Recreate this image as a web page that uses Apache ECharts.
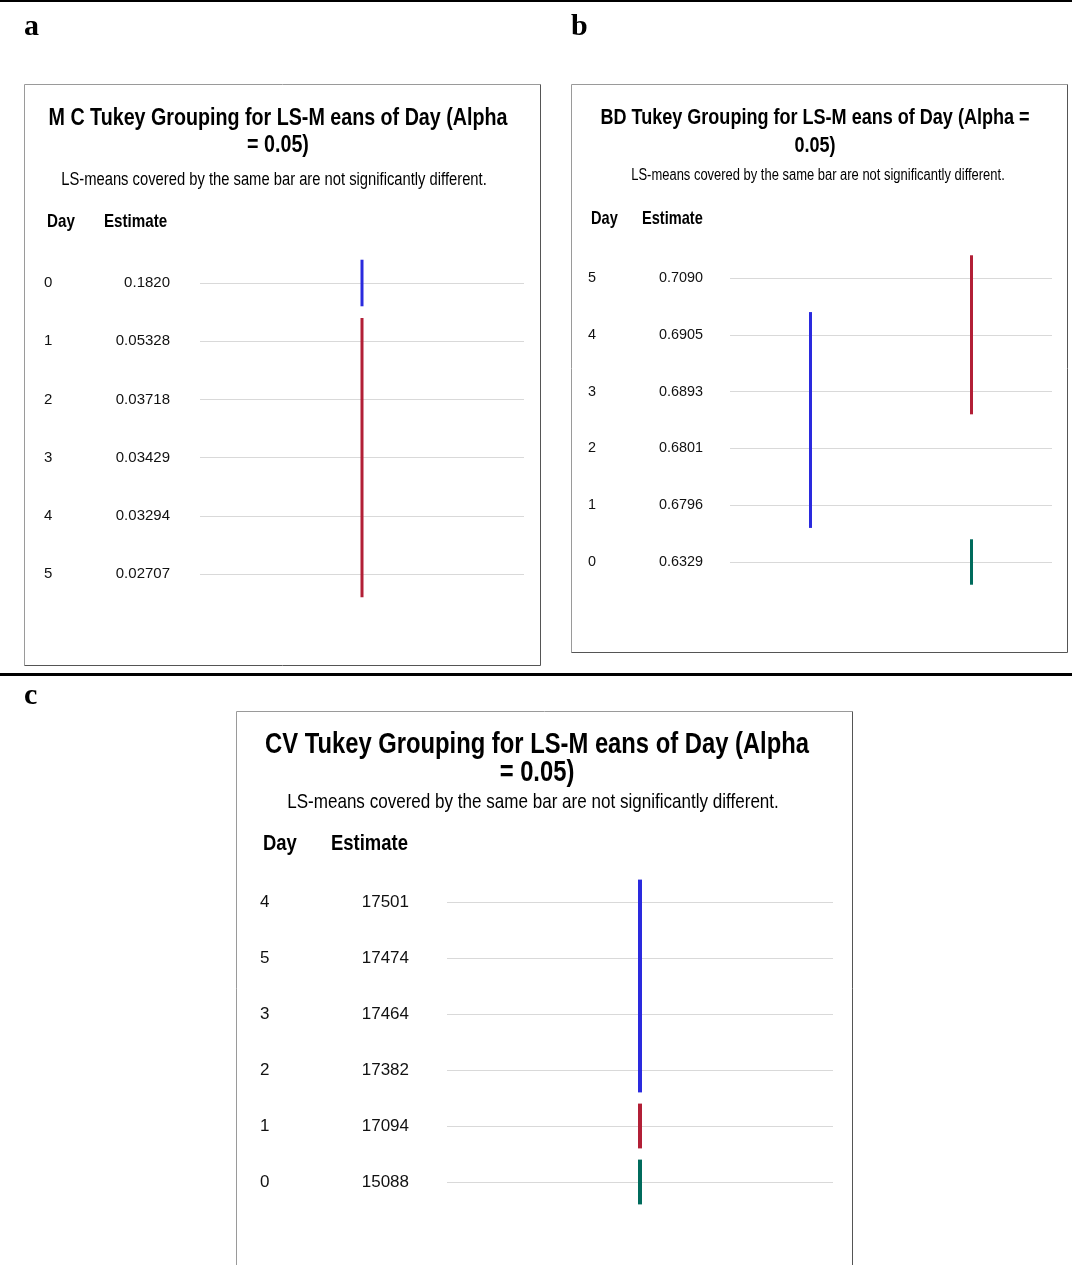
<!DOCTYPE html>
<html>
<head>
<meta charset="utf-8">
<script src="https://cdn.jsdelivr.net/npm/echarts@6/dist/echarts.min.js"></script>
<style>
  html, body { margin: 0; padding: 0; background: #fff; }
  #chart { width: 1072px; height: 1265px; }
</style>
</head>
<body>
<div id="chart"></div>
<script>
// Panel a: MC
const mcDays = ['0', '1', '2', '3', '4', '5'];
const mcEstimates = ['0.1820', '0.05328', '0.03718', '0.03429', '0.03294', '0.02707'];
// Tukey groups: [column, first row, last row]
const mcGroups = [[0, 0, 0], [0, 1, 5]];

// Panel b: BD
const bdDays = ['5', '4', '3', '2', '1', '0'];
const bdEstimates = ['0.7090', '0.6905', '0.6893', '0.6801', '0.6796', '0.6329'];
const bdGroups = [[1, 0, 2], [0, 1, 4], [1, 5, 5]];

// Panel c: CV
const cvDays = ['4', '5', '3', '2', '1', '0'];
const cvEstimates = ['17501', '17474', '17464', '17382', '17094', '15088'];
const cvGroups = [[0, 0, 3], [0, 4, 4], [0, 5, 5]];

const BLUE = '#2a2ade', RED = '#b21f36', GREEN = '#006b5c';
const mcColors = [BLUE, RED];
const bdColors = [RED, BLUE, GREEN];
const cvColors = [BLUE, RED, GREEN];

const SANS = "'Liberation Sans',Arial,sans-serif";
const NARROW_X = 0.82; // horizontal squeeze for the narrow heading face

const panels = [
  { key: 'MC', days: mcDays, est: mcEstimates, groups: mcGroups, colors: mcColors, cols: 1,
    box: [24, 84, 540, 665], grid: { left: 200, top: 283, width: 324, height: 291 },
    dayX: 44, estX: 170, titleX: 278, titleY: [118, 145], subX: 274, subY: 180, headY: 222, dayHeadX: 47, estHeadX: 104,
    fs: 15, titleFs: 24, subFs: 18, headFs: 18.5, bw: 3,
    title: ['M C Tukey Grouping for LS-M eans of Day (Alpha', '= 0.05)'] },
  { key: 'BD', days: bdDays, est: bdEstimates, groups: bdGroups, colors: bdColors, cols: 2,
    box: [571, 84, 1067, 652], grid: { left: 730, top: 278, width: 322, height: 284 },
    dayX: 588, estX: 703, titleX: 815, titleY: [118, 146], subX: 818, subY: 176, headY: 219, dayHeadX: 591, estHeadX: 642,
    fs: 14.4, titleFs: 22, subFs: 15.8, headFs: 17.8, bw: 3,
    title: ['BD Tukey Grouping for LS-M eans of Day (Alpha =', '0.05)'] },
  { key: 'CV', days: cvDays, est: cvEstimates, groups: cvGroups, colors: cvColors, cols: 1,
    box: [236, 711, 852, 1300], grid: { left: 447, top: 902, width: 386, height: 280 },
    dayX: 260, estX: 409, titleX: 537, titleY: [745, 773], subX: 533, subY: 802, headY: 844, dayHeadX: 263, estHeadX: 331,
    fs: 17, titleFs: 29, subFs: 20.8, headFs: 22.5, bw: 4,
    title: ['CV Tukey Grouping for LS-M eans of Day (Alpha', '= 0.05)'] }
];

const grids = [], xAxes = [], yAxes = [], series = [], graphics = [];

function narrowText(text, x, y, size, bold, align) {
  return {
    type: 'text', x, y, scaleX: NARROW_X, scaleY: 1,
    style: { text, align, verticalAlign: 'middle', fill: '#000',
      font: `${bold ? 'bold ' : ''}${size}px ${SANS}` }
  };
}

panels.forEach((p, i) => {
  grids.push({ left: p.grid.left, top: p.grid.top, width: p.grid.width, height: p.grid.height });
  xAxes.push({ gridIndex: i, type: 'value', min: 0, max: p.cols, show: false });
  // Day column, with the horizontal rules
  yAxes.push({
    gridIndex: i, type: 'value', inverse: true, min: 0, max: 5, interval: 1,
    axisLine: { show: false }, axisTick: { show: false },
    splitLine: { show: true, lineStyle: { color: '#d9d9d9', width: 1 } },
    axisLabel: { formatter: v => p.days[v], align: 'left', margin: p.grid.left - p.dayX,
      color: '#111', fontFamily: SANS, fontSize: p.fs }
  });
  // Estimate column
  yAxes.push({
    gridIndex: i, type: 'value', inverse: true, min: 0, max: 5, interval: 1, position: 'left',
    axisLine: { show: false }, axisTick: { show: false }, splitLine: { show: false },
    axisLabel: { formatter: v => p.est[v], align: 'right', margin: p.grid.left - p.estX,
      color: '#111', fontFamily: SANS, fontSize: p.fs }
  });
  series.push({
    type: 'custom', name: p.key, xAxisIndex: i, yAxisIndex: 2 * i, clip: false,
    data: p.groups,
    encode: { x: 0, y: [1, 2] },
    renderItem: (params, api) => {
      const col = api.value(0);
      const a = api.coord([col + 0.5, api.value(1) - 0.4]);
      const b = api.coord([col + 0.5, api.value(2) + 0.4]);
      return { type: 'line', shape: { x1: a[0], y1: a[1], x2: b[0], y2: b[1] },
        style: { stroke: p.colors[params.dataIndex], lineWidth: p.bw } };
    }
  });

  const [x0, y0, x1, y1] = p.box;
  graphics.push(
    { type: 'line', shape: { x1: x0 + 0.5, y1: y0 + 0.5, x2: x1 + 0.5, y2: y0 + 0.5 }, style: { stroke: '#9a9a9a', lineWidth: 1 } },
    { type: 'line', shape: { x1: x0 + 0.5, y1: y0 + 0.5, x2: x0 + 0.5, y2: y1 + 0.5 }, style: { stroke: '#9a9a9a', lineWidth: 1 } },
    { type: 'line', shape: { x1: x1 + 0.5, y1: y0 + 0.5, x2: x1 + 0.5, y2: y1 + 0.5 }, style: { stroke: '#555', lineWidth: 1 } },
    { type: 'line', shape: { x1: x0 + 0.5, y1: y1 + 0.5, x2: x1 + 0.5, y2: y1 + 0.5 }, style: { stroke: '#555', lineWidth: 1 } }
  );
  p.title.forEach((t, k) => graphics.push(narrowText(t, p.titleX, p.titleY[k], p.titleFs, true, 'center')));
  graphics.push(narrowText('LS-means covered by the same bar are not significantly different.',
    p.subX, p.subY, p.subFs, false, 'center'));
  graphics.push(narrowText('Day', p.dayHeadX, p.headY, p.headFs, true, 'left'));
  graphics.push(narrowText('Estimate', p.estHeadX, p.headY, p.headFs, true, 'left'));
});

// Panel letters and dividing rules
const SERIF = "'Liberation Serif','Times New Roman',serif";
[['a', 24, 27], ['b', 571, 27], ['c', 24, 696]].forEach(([t, x, y]) => graphics.push({
  type: 'text', x, y, style: { text: t, align: 'left', verticalAlign: 'middle', fill: '#000', font: `bold 30px ${SERIF}` }
}));
graphics.push(
  { type: 'rect', shape: { x: 0, y: 0, width: 1072, height: 2 }, style: { fill: '#000' } },
  { type: 'rect', shape: { x: 0, y: 673, width: 1072, height: 3 }, style: { fill: '#000' } }
);

const chart = echarts.init(document.getElementById('chart'), null, { renderer: 'canvas' });
chart.setOption({
  animation: false,
  backgroundColor: '#fff',
  grid: grids, xAxis: xAxes, yAxis: yAxes, series,
  graphic: { elements: graphics }
});
</script>
</body>
</html>
